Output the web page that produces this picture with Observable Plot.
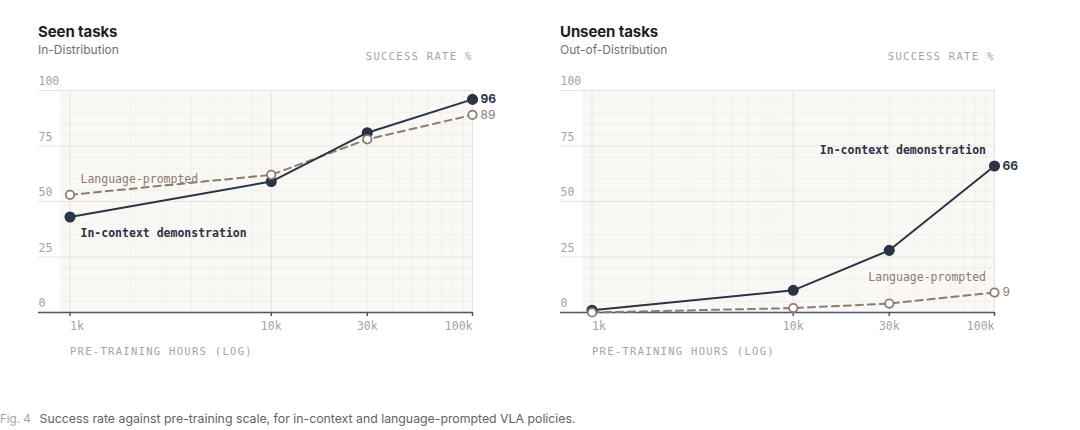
<!DOCTYPE html>
<html>
<head>
<meta charset="utf-8">
<script src="https://cdn.jsdelivr.net/npm/d3@7"></script>
<script src="https://cdn.jsdelivr.net/npm/@observablehq/plot@0.6"></script>
<style>
  html, body { margin: 0; padding: 0; background: #fff; }
  #root { position: relative; width: 1080px; height: 430px; overflow: hidden; font-family: Inter, "Noto Sans", sans-serif; }
  .panel { position: absolute; top: 0; width: 500px; height: 380px; }
  .title { position: absolute; left: 0; top: 23px; font-size: 15px; font-weight: 700; color: #1d1f24; line-height: 18px; letter-spacing: -0.1px; }
  .subtitle { position: absolute; left: 0; top: 42px; font-size: 12px; color: #6d6f76; line-height: 15px; }
  .chart { position: absolute; left: 0; top: 40px; }
  .caption { position: absolute; left: 0; top: 411px; font-size: 12.3px; color: #5f6269; white-space: nowrap; line-height: 15px; }
  .caption .fig { color: #a3a5ab; font-size: 11.5px; margin-right: 9px; }
</style>
</head>
<body>
<div id="root">
  <div class="panel" id="p0" style="left:38px"><div class="title"></div><div class="subtitle"></div><div class="chart"></div></div>
  <div class="panel" id="p1" style="left:560px"><div class="title"></div><div class="subtitle"></div><div class="chart"></div></div>
  <div class="caption"><span class="fig">Fig. 4</span>Success rate against pre-training scale, for in-context and language-prompted VLA policies.</div>
</div>
<script>
// ---- data ----
const hours = [1000, 10000, 30000, 100000];
const hourLabels = ["1k", "10k", "30k", "100k"];
const seenInContext = [43, 59, 81, 96];
const seenLanguage = [53, 62, 78, 89];
const unseenInContext = [1, 10, 28, 66];
const unseenLanguage = [0, 2, 4, 9];
const yTicks = [0, 25, 50, 75, 100];
const yMinorTicks = [5, 10, 15, 20, 30, 35, 40, 45, 55, 60, 65, 70, 80, 85, 90, 95];
const xMajorGrid = [1000, 10000, 100000];
const xMinorGrid = [2000, 3000, 4000, 5000, 6000, 7000, 8000, 9000, 20000, 30000, 40000, 50000, 60000, 70000, 80000, 90000];
const panelTitles = ["Seen tasks", "Unseen tasks"];
const panelSubtitles = ["In-Distribution", "Out-of-Distribution"];
const seriesNames = ["In-context demonstration", "Language-prompted"];

const DARK = "#2b3345";
const BROWN = "#8c7c71";
const GRAY = "#a2a3a9";
const MONO = "'DejaVu Sans Mono', 'Liberation Mono', monospace";
const SPACED = ["SUCCESS RATE %", "PRE-TRAINING HOURS (LOG)"];

function panel(el, title, subtitle, inCtx, lang, labelAt) {
  el.querySelector(".title").textContent = title;
  el.querySelector(".subtitle").textContent = subtitle;
  const ic = hours.map((h, i) => ({h, v: inCtx[i], label: hourLabels[i]}));
  const lp = hours.map((h, i) => ({h, v: lang[i]}));
  const ticks = hours.map((h, i) => ({h, label: hourLabels[i]}));
  const first = [ticks[0]], mid = ticks.slice(1, -1), last = [ticks[ticks.length - 1]];
  const lastIc = [ic[ic.length - 1]], lastLp = [lp[lp.length - 1]];
  const icLabelPt = labelAt === "start" ? [ic[0]] : lastIc;
  const lpLabelPt = labelAt === "start" ? [lp[0]] : lastLp;
  const labelDx = labelAt === "start" ? 10.5 : -8.5;
  const labelAnchor = labelAt === "start" ? "start" : "end";
  const chart = Plot.plot({
    width: 480,
    height: 330,
    marginLeft: 31.5,
    marginRight: 46,
    marginTop: 50,
    marginBottom: 58,
    x: {type: "log", domain: [1000, 100000], axis: null},
    y: {domain: [0, 100], axis: null},
    style: {fontFamily: MONO, overflow: "visible", background: "transparent"},
    marks: [
      Plot.frame({fill: "#f9f8f5", stroke: null, insetLeft: -10}),
      Plot.ruleY(yMinorTicks, {stroke: "#efede8", strokeWidth: 0.8, insetLeft: -10}),
      Plot.ruleX(xMinorGrid, {stroke: "#efede8", strokeWidth: 0.8}),
      Plot.ruleX(xMajorGrid, {stroke: "#e6e4de", strokeWidth: 1}),
      Plot.ruleY(yTicks, {stroke: "#e6e4de", strokeWidth: 1, insetLeft: -31.5}),
      Plot.text(yTicks, {y: d => d, text: d => String(d), frameAnchor: "left", textAnchor: "start", dx: -31.5, dy: -9, fill: GRAY, fontSize: 11.5}),
      Plot.ruleY([0], {stroke: "#4e5464", strokeWidth: 1.5, insetLeft: -31.5}),
      Plot.axisX(hours, {tickSize: 4, tickFormat: () => "", label: null, stroke: "#4e5464", strokeWidth: 1.5}),
      Plot.text(first, {x: "h", text: "label", frameAnchor: "bottom", dy: 17, textAnchor: "start", fill: GRAY, fontSize: 11.5}),
      Plot.text(mid, {x: "h", text: "label", frameAnchor: "bottom", dy: 17, textAnchor: "middle", fill: GRAY, fontSize: 11.5}),
      Plot.text(last, {x: "h", text: "label", frameAnchor: "bottom", dy: 17, textAnchor: "end", fill: GRAY, fontSize: 11.5}),
      Plot.text(first, {x: "h", text: () => SPACED[1], frameAnchor: "bottom", dy: 42, textAnchor: "start", fill: GRAY, fontSize: 10.5}),
      Plot.text([SPACED[0]], {text: d => d, frameAnchor: "top-right", dy: -38, textAnchor: "end", fill: GRAY, fontSize: 10.5}),
      Plot.line(lp, {x: "h", y: "v", stroke: BROWN, strokeWidth: 2, strokeDasharray: "7,5"}),
      Plot.line(ic, {x: "h", y: "v", stroke: DARK, strokeWidth: 2}),
      Plot.dot(ic, {x: "h", y: "v", r: 4.8, fill: DARK, stroke: DARK}),
      Plot.dot(lp, {x: "h", y: "v", r: 4.2, fill: "#fff", stroke: BROWN, strokeWidth: 1.8}),
      Plot.text(lastIc, {x: "h", y: "v", text: d => String(d.v), dx: 8, textAnchor: "start", fill: DARK, fontSize: 12, fontWeight: 700, fontFamily: "Inter, sans-serif"}),
      Plot.text(lastLp, {x: "h", y: "v", text: d => String(d.v), dx: 8, textAnchor: "start", fill: BROWN, fontSize: 12, fontFamily: "Inter, sans-serif"}),
      Plot.text(icLabelPt, {x: "h", y: "v", text: () => seriesNames[0], dx: labelDx, dy: labelAt === "start" ? 16 : -16, textAnchor: labelAnchor, fill: DARK, fontSize: 11.5, fontWeight: 700}),
      Plot.text(lpLabelPt, {x: "h", y: "v", text: () => seriesNames[1], dx: labelDx, dy: -15.5, textAnchor: labelAnchor, fill: BROWN, fontSize: 11.5})
    ]
  });
  chart.querySelectorAll("text").forEach(t => {
    if (SPACED.includes(t.textContent)) t.setAttribute("letter-spacing", "1.3px");
  });
  el.querySelector(".chart").appendChild(chart);
}

panel(document.getElementById("p0"), panelTitles[0], panelSubtitles[0], seenInContext, seenLanguage, "start");
panel(document.getElementById("p1"), panelTitles[1], panelSubtitles[1], unseenInContext, unseenLanguage, "end");
</script>
</body>
</html>
